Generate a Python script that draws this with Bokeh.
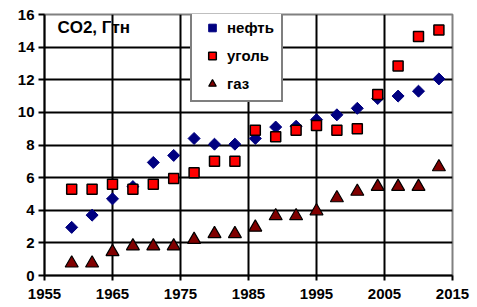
import math
from bokeh.plotting import figure
from bokeh.models import Range1d, FixedTicker, Legend, LegendItem, Label
from bokeh.embed import file_html
from bokeh.resources import INLINE

years = [1959, 1962, 1965, 1968, 1971, 1974, 1977, 1980, 1983, 1986,
         1989, 1992, 1995, 1998, 2001, 2004, 2007, 2010, 2013]
oil = [2.95, 3.7, 4.7, 5.45, 6.93, 7.36, 8.4, 8.05, 8.05, 8.4,
       9.1, 9.15, 9.55, 9.85, 10.25, 10.85, 11.0, 11.3, 12.05]
coal = [5.28, 5.28, 5.6, 5.28, 5.6, 5.95, 6.3, 7.0, 7.0, 8.9,
        8.5, 8.9, 9.2, 8.9, 9.0, 11.1, 12.85, 14.65, 15.05]
gas = [0.75, 0.75, 1.45, 1.8, 1.8, 1.8, 2.2, 2.55, 2.55, 2.95,
       3.65, 3.65, 3.95, 4.75, 5.15, 5.45, 5.45, 5.45, 6.65]
series_names = ["нефть", "уголь", "газ"]
x_ticks = [1955, 1965, 1975, 1985, 1995, 2005, 2015]
y_ticks = [0, 2, 4, 6, 8, 10, 12, 14, 16]
title_text = "CO2, Гтн"

FONT = "Liberation Sans"

p = figure(width=477, height=307, output_backend="svg", toolbar_location=None,
           x_range=Range1d(x_ticks[0], x_ticks[-1]),
           y_range=Range1d(y_ticks[0], y_ticks[-1]),
           min_border_left=44, min_border_right=25, min_border_top=14,
           min_border_bottom=32)
p.background_fill_color = "white"
p.border_fill_color = "white"
p.outline_line_color = "#808080"
p.outline_line_width = 2

p.xaxis.ticker = FixedTicker(ticks=x_ticks)
p.yaxis.ticker = FixedTicker(ticks=y_ticks)
for ax in (p.xaxis[0], p.yaxis[0]):
    ax.axis_line_color = "black"
    ax.axis_line_width = 2
    ax.major_tick_line_color = "black"
    ax.major_tick_line_width = 2
    ax.major_tick_in = 0
    ax.minor_tick_line_color = None
    ax.major_label_text_font = FONT
    ax.major_label_text_font_style = "bold"
    ax.major_label_text_font_size = "15px"
    ax.major_label_text_color = "black"
p.xaxis.major_tick_out = 5
p.xaxis.major_label_standoff = 8
p.yaxis.major_tick_out = 6
p.yaxis.major_label_standoff = 4

p.xgrid.grid_line_color = "black"
p.xgrid.grid_line_width = 2
p.ygrid.grid_line_color = "black"
p.ygrid.grid_line_width = 2

r_oil = p.scatter(years, oil, marker="square", angle=math.pi / 4, size=8.5,
                  fill_color="#000080", line_color="#000080", line_width=1)
r_coal = p.scatter(years, coal, marker="square", size=10,
                   fill_color="#FF0000", line_color="black", line_width=1.5)
r_gas = p.scatter(years, gas, marker="triangle", size=13,
                  fill_color="#800000", line_color="black", line_width=1.2)

legend = Legend(items=[LegendItem(label=series_names[0], renderers=[r_oil]),
                       LegendItem(label=series_names[1], renderers=[r_coal]),
                       LegendItem(label=series_names[2], renderers=[r_gas])],
                location=(146, 261 - 88))
legend.padding = 7
legend.margin = 0
legend.spacing = 9
legend.glyph_width = 26
legend.glyph_height = 19
legend.label_standoff = 2
legend.label_height = 19
legend.label_text_font = FONT
legend.label_text_font_style = "bold"
legend.label_text_font_size = "15px"
legend.label_text_color = "black"
legend.border_line_color = "black"
legend.border_line_width = 2
legend.background_fill_color = "white"
legend.background_fill_alpha = 1
p.add_layout(legend, "center")

p.add_layout(Label(x=1956.9, y=15.2, text=title_text, text_font=FONT,
                   text_font_style="bold", text_font_size="17px",
                   text_baseline="middle", text_color="black"))

open("out.html", "w").write(file_html(p, INLINE))
